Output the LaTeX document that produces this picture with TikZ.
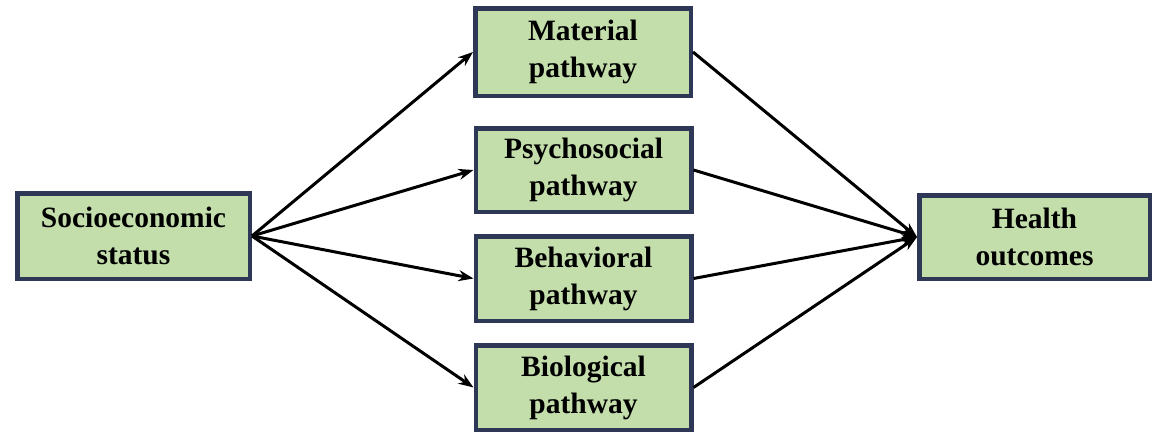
\documentclass[tikz,border=0pt]{standalone}
\usepackage{fontspec}
\setmainfont{Liberation Serif}
\usetikzlibrary{arrows.meta}
\definecolor{boxfill}{HTML}{C3DDAB}
\definecolor{boxline}{HTML}{2E3856}
\begin{document}
\begin{tikzpicture}[x=1pt,y=-1pt,
  stagebox/.style={draw=boxline,fill=boxfill,line width=4.5pt,rectangle,
    inner sep=0pt,align=center,font=\bfseries\fontsize{29.5}{37}\selectfont,
    minimum width=#1},
  stagebox/.default=215.5pt,
  link/.style={line width=3pt,-{Stealth[length=15pt,width=11pt]}}]
\useasboundingbox (0,0) rectangle (1158,431);
% left and right ends of the chain
\node[stagebox=232.5pt,minimum height=85.5pt] (ses) at (133.5,236) {Socioeconomic\\status};
\node[stagebox=230.5pt,minimum height=83.5pt] (health) at (1034.5,237) {Health\\outcomes};
% the four pathways
\node[stagebox,minimum height=87.5pt] (mat) at (583,52) {Material\\pathway};
\node[stagebox,minimum height=83.5pt] (psy) at (583.5,170) {Psychosocial\\pathway};
\node[stagebox,minimum height=84.5pt] (beh) at (583.5,278.5) {Behavioral\\pathway};
\node[stagebox,minimum height=84.5pt] (bio) at (583.5,387.5) {Biological\\pathway};
% status to each pathway
\foreach \p in {mat,psy,beh,bio}
  \draw[link] (ses.east) -- (\p.west);
% each pathway to health
\foreach \p in {mat,psy,beh,bio}
  \draw[link] (\p.east) -- (health.west);
\end{tikzpicture}
\end{document}
